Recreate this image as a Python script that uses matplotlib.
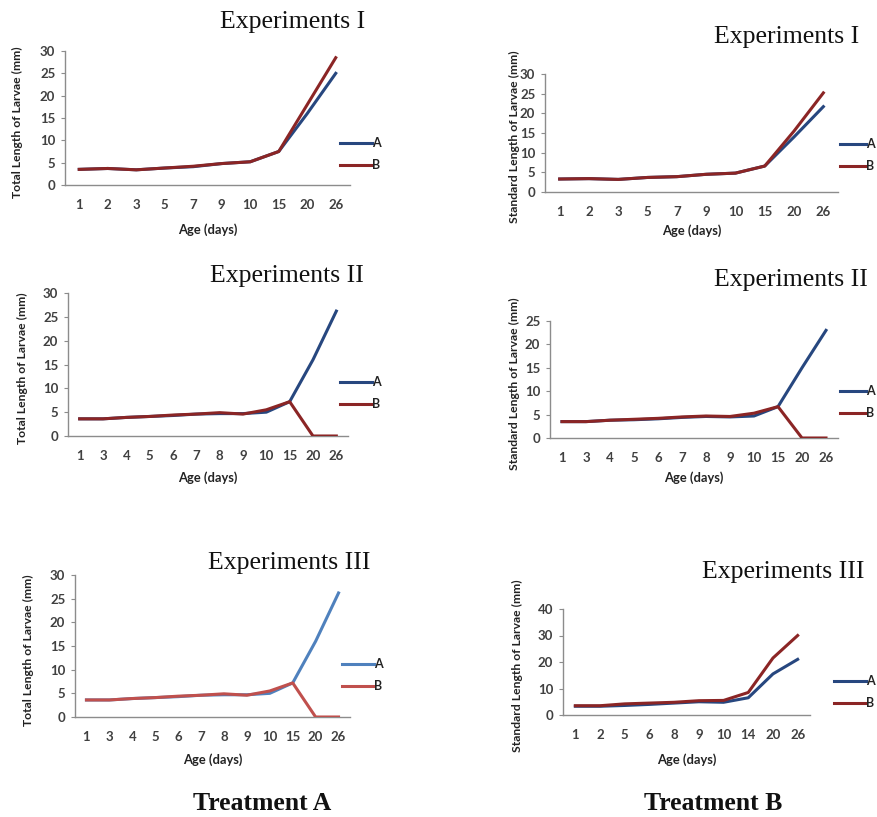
import matplotlib.pyplot as plt

# Data (length of larvae, mm)
days_1 = ['1', '2', '3', '5', '7', '9', '10', '15', '20', '26']
tl1_a = [3.5, 3.7, 3.4, 3.8, 4.1, 4.8, 5.2, 7.5, 16.0, 25.0]
tl1_b = [3.5, 3.7, 3.4, 3.8, 4.2, 4.8, 5.2, 7.5, 18.0, 28.5]
sl1_a = [3.3, 3.4, 3.2, 3.7, 3.9, 4.5, 4.8, 6.6, 14.0, 21.7]
sl1_b = [3.3, 3.4, 3.2, 3.7, 3.9, 4.5, 4.8, 6.6, 15.5, 25.2]

days_2 = ['1', '3', '4', '5', '6', '7', '8', '9', '10', '15', '20', '26']
tl2_a = [3.6, 3.6, 3.9, 4.1, 4.3, 4.6, 4.7, 4.7, 5.0, 7.2, 16.0, 26.2]
tl2_b = [3.6, 3.6, 3.9, 4.1, 4.4, 4.6, 4.9, 4.6, 5.5, 7.2, 0.0, 0.0]
sl2_a = [3.5, 3.5, 3.8, 3.9, 4.1, 4.4, 4.6, 4.5, 4.7, 6.7, 15.0, 23.0]
sl2_b = [3.5, 3.5, 3.8, 4.0, 4.2, 4.5, 4.7, 4.6, 5.3, 6.7, 0.0, 0.0]

days_3a = ['1', '3', '4', '5', '6', '7', '8', '9', '10', '15', '20', '26']
tl3_a = [3.6, 3.6, 3.9, 4.1, 4.3, 4.6, 4.7, 4.7, 5.0, 7.2, 16.0, 26.2]
tl3_b = [3.6, 3.6, 3.9, 4.1, 4.4, 4.6, 4.9, 4.6, 5.5, 7.2, 0.0, 0.0]

days_3b = ['1', '2', '5', '6', '8', '9', '10', '14', '20', '26']
sl3_a = [3.3, 3.3, 3.6, 4.0, 4.5, 5.0, 4.8, 6.5, 15.5, 21.0]
sl3_b = [3.5, 3.5, 4.2, 4.5, 4.8, 5.4, 5.5, 8.5, 21.5, 30.0]

W, H = 878, 817
fig = plt.figure(figsize=(W / 100, H / 100), dpi=100)
plt.rcParams['font.family'] = ['Lato', 'DejaVu Sans']

DARK = ('#27477f', '#8b2525')
LIGHT = ('#4f81bd', '#c0504d')
GREY = '#8c8c8c'
TXT = '#404040'


def px_axes(left, top, right, bottom):
    return fig.add_axes([left / W, 1 - bottom / H, (right - left) / W, (bottom - top) / H])


def panel(box, days, a, b, ymax, ystep, ylabel, title, title_xy, xlab_y, leg_xy, ylab_x, colors,
          hlen=2.6):
    ax = px_axes(*box)
    x = list(range(len(days)))
    ax.plot(x, a, color=colors[0], lw=2.2, label='A', solid_joinstyle='round')
    ax.plot(x, b, color=colors[1], lw=2.2, label='B', solid_joinstyle='round')
    ax.set_xlim(-0.5, len(days) - 0.5)
    ax.set_ylim(0, ymax)
    ax.set_yticks(range(0, ymax + 1, ystep))
    ax.set_xticks(x)
    ax.set_xticklabels(days)
    for s in ['top', 'right']:
        ax.spines[s].set_visible(False)
    for s in ['left', 'bottom']:
        ax.spines[s].set_color(GREY)
        ax.spines[s].set_linewidth(1.0)
    ax.spines['bottom'].set_zorder(0)
    ax.tick_params(axis='y', length=3, color=GREY, labelsize=9.5, labelcolor=TXT, pad=4)
    ax.tick_params(axis='x', length=0, labelsize=9.5, labelcolor=TXT, pad=10)
    for lb in ax.get_xticklabels() + ax.get_yticklabels():
        lb.set_fontweight('bold')
    ax.patch.set_alpha(0)
    fig.text(ylab_x / W, 1 - (box[1] + box[3]) / 2 / H - 0.005, ylabel, rotation=90,
             ha='center', va='center', fontsize=8.7, fontweight='bold', color='#222222')
    fig.text((box[0] + box[2]) / 2 / W, 1 - xlab_y / H, 'Age (days)', ha='center', va='center',
             fontsize=9.3, fontweight='bold', color='#222222')
    fig.text(title_xy[0] / W, 1 - title_xy[1] / H, title, ha='center', va='center',
             fontsize=18.5, family='Liberation Serif', color='#111111')
    ax.legend(loc='center left', bbox_to_anchor=(leg_xy[0] / W, 1 - leg_xy[1] / H),
              bbox_transform=fig.transFigure, frameon=False, handlelength=hlen,
              handletextpad=0.0, labelspacing=0.8, borderpad=0, borderaxespad=0,
              prop={'size': 9, 'weight': 'bold'}, labelcolor='#222222')
    return ax


panel((65, 51, 350, 185), days_1, tl1_a, tl1_b, 30, 5,
      'Total Length of Larvae (mm)', 'Experiments I', (293, 22), 230, (340, 154), 17, DARK)
panel((545, 74, 838, 192), days_1, sl1_a, sl1_b, 30, 5,
      'Standard Length of Larvae (mm)', 'Experiments I', (787, 37), 231, (840, 155), 514, DARK,
      hlen=2.1)
panel((68, 293, 348, 436), days_2, tl2_a, tl2_b, 30, 5,
      'Total Length of Larvae (mm)', 'Experiments II', (287, 276), 478, (340, 393), 22, DARK)
panel((550, 321, 838, 438), days_2, sl2_a, sl2_b, 25, 5,
      'Standard Length of Larvae (mm)', 'Experiments II', (791, 280), 478, (840, 402), 514, DARK,
      hlen=2.1)
panel((75, 575, 350, 717), days_3a, tl3_a, tl3_b, 30, 5,
      'Total Length of Larvae (mm)', 'Experiments III', (289, 563), 760, (342, 675), 28, LIGHT)
panel((563, 609, 810, 715), days_3b, sl3_a, sl3_b, 40, 10,
      'Standard Length of Larvae (mm)', 'Experiments III', (783, 572), 760, (834, 692), 517, DARK)

fig.text(262 / W, 1 - 803 / H, 'Treatment A', ha='center', va='center',
         fontsize=18.5, fontweight='bold', family='Liberation Serif', color='#111111')
fig.text(713 / W, 1 - 803 / H, 'Treatment B', ha='center', va='center',
         fontsize=18.5, fontweight='bold', family='Liberation Serif', color='#111111')

fig.savefig('out.png', dpi=100)
